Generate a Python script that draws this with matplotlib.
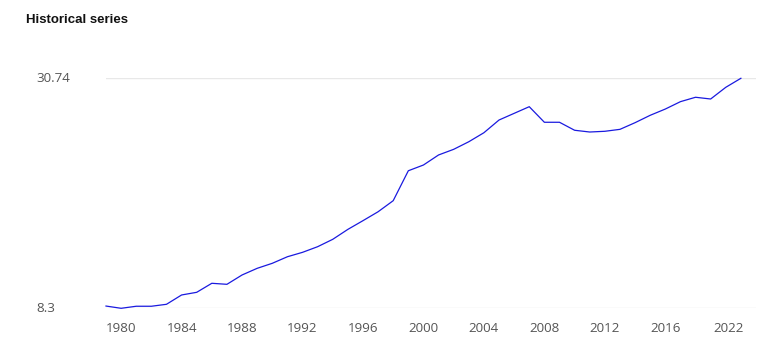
import matplotlib
matplotlib.use("Agg")
import matplotlib.pyplot as plt

# values
years = list(range(1979, 2022))
values = [8.52, 8.30, 8.50, 8.50, 8.69, 9.60, 9.86, 10.74, 10.64, 11.55,
          12.20, 12.69, 13.33, 13.76, 14.31, 15.03, 16.00, 16.85, 17.72, 18.80,
          21.72, 22.28, 23.26, 23.81, 24.55, 25.43, 26.67, 27.32, 27.97, 26.45,
          26.45, 25.67, 25.50, 25.57, 25.76, 26.41, 27.13, 27.74, 28.46, 28.89,
          28.72, 29.86, 30.74]

y_ticks = [8.3, 30.74]
y_tick_labels = ["8.3", "30.74"]
x_tick_pos = [1980, 1984, 1988, 1992, 1996, 2000, 2004, 2008, 2012, 2016, 2020.2]
x_tick_labels = ["1980", "1984", "1988", "1992", "1996", "2000", "2004", "2008",
                 "2012", "2016", "2022"]

W, H = 781, 354
fig = plt.figure(figsize=(W / 100, H / 100), dpi=100)
left, right = 106 / W, 756 / W
bottom, top = (H - 308.3) / H, (H - 78.3) / H
ax = fig.add_axes([left, bottom, right - left, top - bottom])

ax.plot(years, values, color="#1a1adf", lw=0.9, clip_on=False, zorder=3)

ax.set_xlim(1979, 2022)
ax.set_ylim(min(y_ticks), max(y_ticks))

for s in ax.spines.values():
    s.set_visible(False)

for yv in y_ticks:
    ax.axhline(yv, color="#e8e8e8", lw=1, zorder=1)

ax.set_yticks(y_ticks)
ax.set_yticklabels([])
for yv, lab in zip(y_ticks, y_tick_labels):
    ax.annotate(lab, xy=(36 / W, yv), xycoords=("figure fraction", "data"),
                ha="left", va="center", fontsize=9.6, color="#555555",
                family="Open Sans")
ax.tick_params(axis="y", length=0)

ax.set_xticks(x_tick_pos)
ax.set_xticklabels(x_tick_labels, fontsize=9.6, color="#555555", family="Open Sans")
ax.tick_params(axis="x", length=0, pad=10)

fig.text(26 / W, 1 - 20 / H, "Historical series", ha="left", va="center",
         fontsize=9.5, fontweight="bold", family="Liberation Sans", color="#111111")

fig.savefig("out.png", dpi=100, facecolor="white")
